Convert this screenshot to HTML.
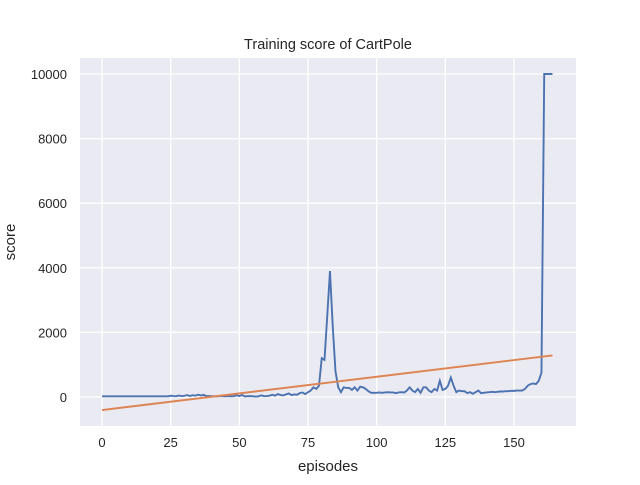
<!DOCTYPE html>
<html><head><meta charset="utf-8"><style>
body{margin:0;background:#fff;font-family:"Liberation Sans","DejaVu Sans",sans-serif}
text{font-family:"Liberation Sans","DejaVu Sans",sans-serif;fill:#262626}
</style></head><body>
<svg id="chart" width="640" height="480" xmlns="http://www.w3.org/2000/svg">
<rect x="80" y="58" width="496" height="368" fill="#eaeaf2"/>
<g id="grid"></g><g id="ticks"></g><g id="series"></g>
<text x="328" y="49" text-anchor="middle" font-size="14.5">Training score of CartPole</text>
<text x="328" y="471" text-anchor="middle" font-size="15">episodes</text>
<text transform="translate(15,242) rotate(-90)" text-anchor="middle" font-size="15">score</text>
</svg>
<script>
const xTicks=[0,25,50,75,100,125,150];
const yTicks=[0,2000,4000,6000,8000,10000];
const scores=[20,20,20,20,20,20,20,20,20,20,20,20,20,20,20,20,20,20,20,20,20,20,20,20,20,
40,30,25,45,30,35,60,30,55,40,70,50,65,30,30,
25,20,20,30,25,20,30,20,25,50,30,60,20,25,30,20,15,20,50,25,
30,40,70,40,90,60,50,80,110,60,80,70,120,140,90,150,
200,300,250,350,
1200,1150,2500,3900,2200,800,300,150,300,280,280,220,300,200,320,300,250,180,130,130,
130,140,130,140,150,140,140,120,140,150,140,
200,300,200,150,250,130,300,300,200,150,250,200,500,220,250,350,600,350,150,200,180,180,120,150,100,150,200,120,130,140,150,160,150,160,
170,170,180,180,190,190,200,200,200,250,350,400,420,400,500,750,10000,10000,10000,10000];
const X=v=>102+v*(514-102)/150;
const Y=v=>397-v*(397-74)/10000;
const NS="http://www.w3.org/2000/svg";
function mk(t,a,p){const e=document.createElementNS(NS,t);for(const k in a)e.setAttribute(k,a[k]);p.appendChild(e);return e;}
const g=document.getElementById('grid'),tk=document.getElementById('ticks'),s=document.getElementById('series');
xTicks.forEach(v=>{const l=mk('line',{x1:X(v),x2:X(v),y1:58,y2:426,stroke:'#fff','stroke-width':1.3},g);


const t=mk('text',{x:X(v),y:447,'text-anchor':'middle','font-size':13},tk);t.textContent=v;

});
yTicks.forEach(v=>{const l=mk('line',{x1:80,x2:576,y1:Y(v),y2:Y(v),stroke:'#fff','stroke-width':1.3},g);


const t=mk('text',{x:67,y:Y(v)+5,'text-anchor':'end','font-size':13},tk);t.textContent=v;

});
const n=scores.length;let sx=0,sy=0,sxy=0,sxx=0;
scores.forEach((v,i)=>{sx+=i;sy+=v;sxy+=i*v;sxx+=i*i;});
const b=(n*sxy-sx*sy)/(n*sxx-sx*sx),a=(sy-b*sx)/n;
const p=mk('polyline',{points:scores.map((v,i)=>X(i)+','+Y(v)).join(' '),fill:'none',stroke:'#4c72b0','stroke-width':1.9},s);


const tr=mk('line',{x1:X(0),y1:Y(a),x2:X(n-1),y2:Y(a+b*(n-1)),stroke:'#dd8452','stroke-width':1.9},s);


</script>
</body></html>
